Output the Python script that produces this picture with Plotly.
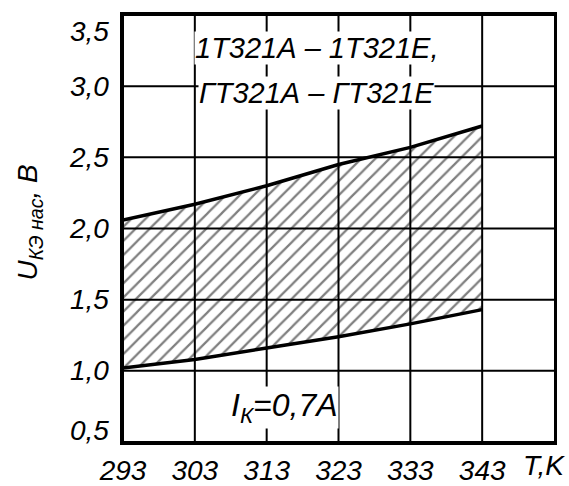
import plotly.graph_objects as go

# Temperature grid (K) and saturation voltage limits (V)
temps = [293, 303, 313, 323, 333, 343]
u_max = [2.06, 2.17, 2.30, 2.45, 2.57, 2.72]
u_min = [1.02, 1.08, 1.16, 1.24, 1.33, 1.43]

x_ticks = [293, 303, 313, 323, 333, 343]
x_tick_text = ["293", "303", "313", "323", "333", "343"]
y_ticks = [0.5, 1.0, 1.5, 2.0, 2.5, 3.0, 3.5]
y_tick_text = ["0,5", "1,0", "1,5", "2,0", "2,5", "3,0", "3,5"]

FONT = dict(family="Liberation Sans", size=28, color="black", style="italic")

fig = go.Figure()

fig.add_trace(go.Scatter(
    x=temps, y=u_min, mode="lines",
    line=dict(color="black", width=3.5),
    showlegend=False, hoverinfo="skip",
))
fig.add_trace(go.Scatter(
    x=temps, y=u_max, mode="lines",
    line=dict(color="black", width=3.5),
    fill="tonexty", fillcolor="rgba(0,0,0,0)",
    fillpattern=dict(shape="/", size=10, solidity=0.22,
                     fgcolor="black", fillmode="overlay"),
    showlegend=False, hoverinfo="skip",
))

# Grid drawn on top of the hatching
for xv in x_ticks:
    fig.add_shape(type="line", xref="x", yref="paper", x0=xv, x1=xv,
                  y0=0, y1=1, line=dict(color="black", width=2), layer="above")
for yv in y_ticks:
    fig.add_shape(type="line", xref="paper", yref="y", x0=0, x1=1,
                  y0=yv, y1=yv, line=dict(color="black", width=2), layer="above")

# Y tick labels (end labels sit inside the frame)
for yv, txt in zip(y_ticks, y_tick_text):
    shift = -16 if yv == y_ticks[-1] else (12 if yv == y_ticks[0] else 0)
    fig.add_annotation(x=0, y=yv, xref="paper", yref="y", text=txt,
                       showarrow=False, font=FONT, xanchor="right",
                       yanchor="middle", xshift=-12, yshift=shift)

# Device type labels
fig.add_annotation(x=320, y=3.27, xref="x", yref="y",
                   text="1Т321А – 1Т321Е,", showarrow=False,
                   font=dict(FONT, size=29), bgcolor="white", borderpad=0)
fig.add_annotation(x=320, y=2.95, xref="x", yref="y",
                   text="ГТ321А – ГТ321Е", showarrow=False,
                   font=dict(FONT, size=29), bgcolor="white", borderpad=0)
# Collector current
fig.add_annotation(x=315.5, y=0.74, xref="x", yref="y",
                   text="I<sub>К</sub>=0,7А", showarrow=False,
                   font=dict(FONT, size=32), bgcolor="white", borderpad=0)
# Axis titles
fig.add_annotation(x=-0.262, y=0.513, xref="paper", yref="paper",
                   text="U<sub>КЭ нас</sub>, В", textangle=-90,
                   showarrow=False, font=FONT)
fig.add_annotation(x=1.03, y=-0.054, xref="paper", yref="paper",
                   text="T,K", showarrow=False, font=FONT,
                   xanchor="right", yanchor="middle")

axis_common = dict(
    showgrid=False, showline=True, linecolor="black", linewidth=3,
    mirror=True, zeroline=False, ticks="", layer="above traces",
    automargin=False,
)

fig.update_xaxes(range=[293, 353], tickvals=x_ticks, ticktext=x_tick_text,
                 tickfont=FONT, ticklabelstandoff=1, **axis_common)
fig.update_yaxes(range=[0.5, 3.5], showticklabels=False, **axis_common)

fig.update_layout(
    width=569, height=486,
    margin=dict(l=123, r=15, t=15, b=44),
    paper_bgcolor="white", plot_bgcolor="white",
)

fig.write_html("out.html")
